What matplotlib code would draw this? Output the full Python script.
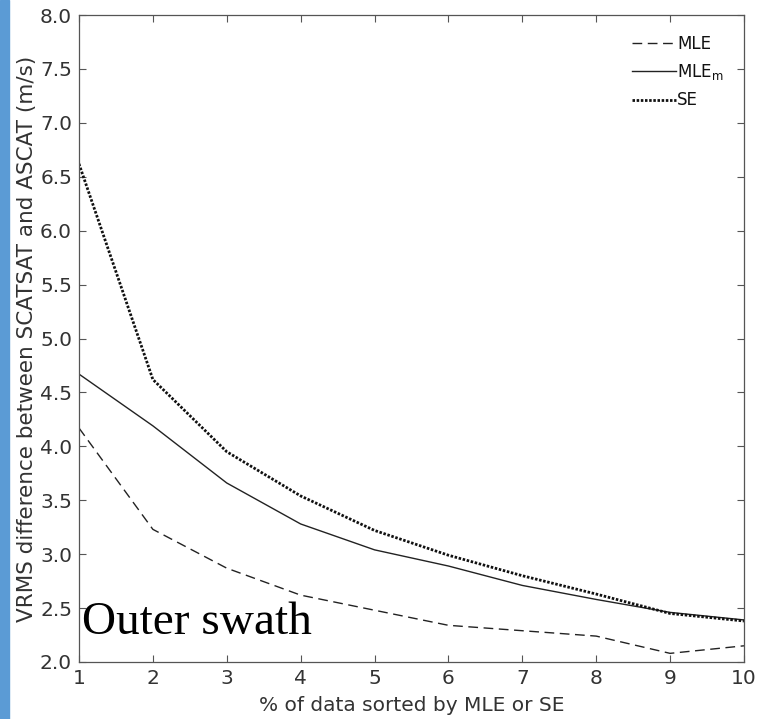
import numpy as np
import matplotlib
matplotlib.use("Agg")
import matplotlib.pyplot as plt
from matplotlib.patches import Rectangle

# data
pct = [1, 2, 3, 4, 5, 6, 7, 8, 9, 10]
mle = [4.17, 3.23, 2.87, 2.62, 2.48, 2.34, 2.29, 2.24, 2.08, 2.15]
mle_m = [4.67, 4.19, 3.66, 3.28, 3.04, 2.89, 2.71, 2.58, 2.46, 2.39]
se = [6.62, 4.62, 3.95, 3.54, 3.22, 2.99, 2.80, 2.63, 2.45, 2.38]
yticks = [2.0, 2.5, 3.0, 3.5, 4.0, 4.5, 5.0, 5.5, 6.0, 6.5, 7.0, 7.5, 8.0]

plt.rcParams['font.family'] = ['DejaVu Sans']
gray = '#333333'

fig = plt.figure(figsize=(7.58, 7.19), dpi=100)
ax = fig.add_axes([0.1042, 0.0793, 0.8773, 0.8998])

# blue strip along the left edge
fig.patches.append(Rectangle((0, 0), 9 / 758, 1, transform=fig.transFigure,
                             color='#5b9bd5', zorder=0))

ax.plot(pct, mle, color='#222222', lw=1.0, dashes=(7, 4), label='MLE')
ax.plot(pct, mle_m, color='#222222', lw=1.0, label='MLE$_\\mathregular{m}$')
ax.plot(pct, se, color='#111111', lw=2.0, dashes=(0.9, 0.6), label='SE')

ax.set_xlim(1, 10)
ax.set_ylim(2.0, 8.0)
ax.set_xticks(pct)
ax.set_yticks(yticks)
ax.set_yticklabels(['%.1f' % v for v in yticks])
ax.tick_params(direction='in', top=True, right=True, length=5, width=0.8,
               color='#555555', labelsize=14.5, labelcolor=gray)
ax.tick_params(axis='x', pad=5)
ax.tick_params(axis='y', pad=5)
for s in ax.spines.values():
    s.set_color('#555555')
    s.set_linewidth(0.9)

ax.set_xlabel('% of data sorted by MLE or SE', fontsize=14.5, color=gray, labelpad=6)
ax.set_ylabel('VRMS difference between SCATSAT and ASCAT (m/s)', fontsize=15.5,
              color=gray, labelpad=2)

leg = ax.legend(loc='upper right', frameon=False, fontsize=12, handlelength=2.6,
                handletextpad=0.1, labelspacing=0.55, borderaxespad=0.8)
for t in leg.get_texts():
    t.set_color('#111111')

ax.text(0.005, 0.028, 'Outer swath', transform=ax.transAxes, fontsize=34,
        family='Liberation Serif', color='black', ha='left', va='bottom')

fig.savefig('out.png', dpi=100)
